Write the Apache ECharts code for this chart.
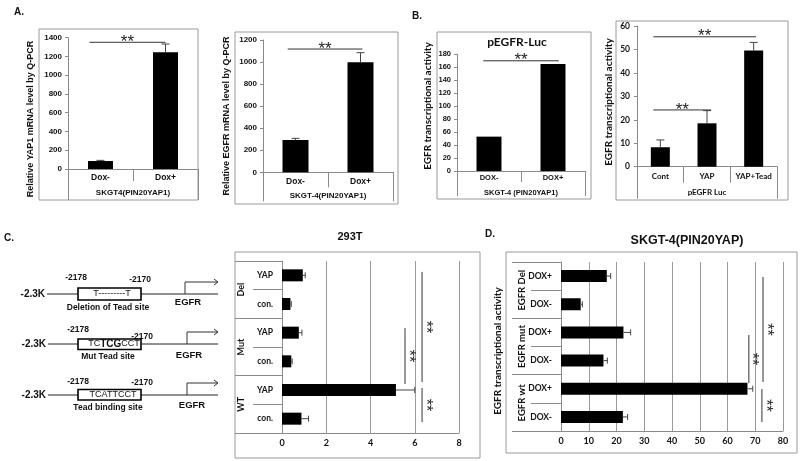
<!DOCTYPE html>
<html><head><meta charset="utf-8">
<script src="https://cdn.jsdelivr.net/npm/echarts@6/dist/echarts.min.js"></script>
<style>html,body{margin:0;padding:0;background:#fff}#c{width:800px;height:461px}</style>
</head><body><div id="c"></div>
<script>
// ---------- DATA ----------
const A1_CATS = ['Dox-', 'Dox+'];
const A1_GROUP = ['SKGT4(PIN20YAP1)'];
const A1_VALUES = [85, 1244];
const A1_ERR = [92, 1333];
const A1_SIG = [[-0.17, 1.0, 1351]];          // [from cat, to cat, level]
const A1_TICKS = {min: 0, max: 1400, step: 200};

const A2_CATS = ['Dox-', 'Dox+'];
const A2_GROUP = ['SKGT-4(PIN20YAP1)'];
const A2_VALUES = [293, 998];
const A2_ERR = [308, 1085];
const A2_SIG = [[-0.12, 1.03, 1118]];
const A2_TICKS = {min: 0, max: 1200, step: 200};

const B1_CATS = ['DOX-', 'DOX+'];
const B1_GROUP = ['SKGT-4 (PIN20YAP1)'];
const B1_VALUES = [53, 165];
const B1_SIG = [[-0.09, 1.09, 170]];
const B1_TICKS = {min: 0, max: 180, step: 20};

const B2_CATS = ['Cont', 'YAP', 'YAP+Tead'];
const B2_GROUP = ['pEGFR Luc'];
const B2_VALUES = [8.3, 18.5, 49.5];
const B2_ERR = [11.4, 23.9, 53];
const B2_SIG = [[-0.15, 2.05, 55.4], [-0.15, 1.09, 24.2]];
const B2_TICKS = {min: 0, max: 60, step: 10};

// horizontal panels: bottom -> top
const C_CATS = ['con.', 'YAP', 'con.', 'YAP', 'con.', 'YAP'];
const C_GROUPS = ['WT', 'Mut', 'Del'];
const C_VALUES = [0.88, 5.15, 0.42, 0.76, 0.38, 0.94];
const C_ERR = [1.2, 6.0, 0.46, 0.9, 0.42, 1.05];
const C_SIG = [[5.56, 3.16, 1.21], [6.33, 5.12, 1.28], [6.33, 1.07, -0.12]]; // [level, from cat, to cat]
const C_TICKS = {min: 0, max: 8, step: 2};

const D_CATS = ['DOX-', 'DOX+', 'DOX-', 'DOX+', 'DOX-', 'DOX+'];
const D_GROUPS = ['EGFR wt', 'EGFR mut', 'EGFR Del'];
const D_VALUES = [22.3, 67.2, 15.3, 22.5, 7.1, 16.5];
const D_ERR = [24.0, 69.1, 16.7, 25.1, 7.7, 17.9];
const D_SIG = [[67.7, 2.91, 1.20], [72.8, 4.97, 1.24], [72.4, 0.99, -0.18]];
const D_TICKS = {min: 0, max: 80, step: 10};

// ---------- STYLE ----------
const FA = '"Liberation Sans", Arial, sans-serif';
const FC = 'Lato, "Open Sans", sans-serif';
const AX = '#8a8a8a';
const TXT = '#111';

function errV(params, api) {
  const i = api.value(0), hi = api.value(1), v = api.value(2);
  const t = api.coord([i, hi]), b = api.coord([i, v]);
  const c = 4;
  return {type: 'group', children: [
    {type: 'line', shape: {x1: t[0], y1: t[1], x2: b[0], y2: b[1]}, style: {stroke: '#444', lineWidth: 1}},
    {type: 'line', shape: {x1: t[0] - c, y1: t[1], x2: t[0] + c, y2: t[1]}, style: {stroke: '#444', lineWidth: 1}}
  ]};
}
function errH(params, api) {
  const hi = api.value(0), i = api.value(1), v = api.value(2);
  const t = api.coord([hi, i]), b = api.coord([v, i]);
  const c = 3;
  return {type: 'group', children: [
    {type: 'line', shape: {x1: t[0], y1: t[1], x2: b[0], y2: b[1]}, style: {stroke: '#444', lineWidth: 1}},
    {type: 'line', shape: {x1: t[0], y1: t[1] - c, x2: t[0], y2: t[1] + c}, style: {stroke: '#444', lineWidth: 1}}
  ]};
}
function sigV(fs) {
  return function (params, api) {
    const v = api.value(1), f = api.value(2), to = api.value(3);
    const p0 = api.coord([0, v]), p1 = api.coord([1, v]);
    const band = p1[0] - p0[0];
    const x1 = p0[0] + f * band, x2 = p0[0] + to * band, y = p0[1];
    return {type: 'group', children: [
      {type: 'line', shape: {x1: x1, y1: y, x2: x2, y2: y}, style: {stroke: '#333', lineWidth: 1}},
      {type: 'text', x: (x1 + x2) / 2, y: y, style: {text: '**', fill: '#222', font: fs + 'px ' + FA, align: 'center', verticalAlign: 'middle'}}
    ]};
  };
}
function sigH(fs) {
  return function (params, api) {
    const x = api.value(0), f = api.value(2), to = api.value(3);
    const p0 = api.coord([x, 0]), p1 = api.coord([x, 1]);
    const band = p1[1] - p0[1];
    const y1 = p0[1] + f * band, y2 = p0[1] + to * band, X = p0[0];
    return {type: 'group', children: [
      {type: 'line', shape: {x1: X, y1: y1, x2: X, y2: y2}, style: {stroke: '#333', lineWidth: 1}},
      {type: 'text', x: X + 3, y: (y1 + y2) / 2, rotation: -Math.PI / 2, style: {text: '**', fill: '#222', font: fs + 'px ' + FA, align: 'center', verticalAlign: 'middle'}}
    ]};
  };
}

const plain = v => String(v);
function lab(font, size, margin, extra) {
  return Object.assign({show: true, interval: 0, color: TXT, fontFamily: font, fontSize: size, fontWeight: 'bold', margin: margin, hideOverlap: false}, extra || {});
}
function vCat(grid, cats, tickLen, font, size, margin) {
  return {type: 'category', gridIndex: grid, data: cats, position: 'bottom', offset: 0,
    axisLine: {show: true, lineStyle: {color: AX, width: 1}},
    axisTick: {show: true, alignWithLabel: false, interval: 0, length: tickLen, lineStyle: {color: AX}},
    axisLabel: lab(font, size, margin), splitLine: {show: false}};
}
function vGrp(grid, grp, tickLen, font, size, margin) {
  return {type: 'category', gridIndex: grid, data: grp, position: 'bottom', offset: 0,
    axisLine: {show: false},
    axisTick: {show: true, alignWithLabel: false, length: tickLen, lineStyle: {color: AX}},
    axisLabel: lab(font, size, margin), splitLine: {show: false}};
}
function vVal(grid, t, font, size, margin) {
  return {type: 'value', gridIndex: grid, min: t.min, max: t.max, interval: t.step,
    axisLine: {show: true, lineStyle: {color: AX}},
    axisTick: {show: true, length: 3, lineStyle: {color: AX}},
    axisLabel: lab(font, size, margin, {formatter: plain}), splitLine: {show: false}};
}
function hCat(grid, cats, tickLen, font, size, margin) {
  return {type: 'category', gridIndex: grid, data: cats, position: 'left', offset: 0,
    axisLine: {show: true, lineStyle: {color: AX}},
    axisTick: {show: true, alignWithLabel: false, interval: 0, length: tickLen, lineStyle: {color: AX}},
    axisLabel: lab(font, size, margin), splitLine: {show: false}};
}
function hGrp(grid, grps, tickLen, font, size, margin) {
  return {type: 'category', gridIndex: grid, data: grps, position: 'left', offset: 0,
    axisLine: {show: false},
    axisTick: {show: true, alignWithLabel: false, interval: 0, length: tickLen, lineStyle: {color: AX}},
    axisLabel: lab(font, size, margin, {rotate: 90}), splitLine: {show: false}};
}
function hVal(grid, t, font, size, margin) {
  return {type: 'value', gridIndex: grid, min: t.min, max: t.max, interval: t.step,
    axisLine: {show: true, lineStyle: {color: AX}},
    axisTick: {show: false},
    axisLabel: lab(font, size, margin, {formatter: plain}),
    splitLine: {show: true, lineStyle: {color: '#9a9a9a', width: 1}}};
}

function vSeries(xi, yi, vals, errs, sig, bw, fs) {
  const s = [{type: 'bar', xAxisIndex: xi, yAxisIndex: yi, data: vals, barWidth: bw, itemStyle: {color: '#000'}, z: 2, animation: false}];
  if (errs) s.push({type: 'custom', xAxisIndex: xi, yAxisIndex: yi, encode: {x: 0, y: 1}, clip: false, z: 3, animation: false,
    data: errs.map((e, i) => [i, e, vals[i]]), renderItem: errV});
  s.push({type: 'custom', xAxisIndex: xi, yAxisIndex: yi, encode: {x: 0, y: 1}, clip: false, z: 3, animation: false,
    data: sig.map(g => [0, g[2], g[0], g[1]]), renderItem: sigV(fs)});
  return s;
}
function hSeries(xi, yi, vals, errs, sig, bw, fs) {
  return [
    {type: 'bar', xAxisIndex: xi, yAxisIndex: yi, data: vals, barWidth: bw, itemStyle: {color: '#000'}, z: 2, animation: false},
    {type: 'custom', xAxisIndex: xi, yAxisIndex: yi, encode: {x: 0, y: 1}, clip: false, z: 3, animation: false,
      data: errs.map((e, i) => [e, i, vals[i]]), renderItem: errH},
    {type: 'custom', xAxisIndex: xi, yAxisIndex: yi, encode: {x: 0, y: 1}, clip: false, z: 3, animation: false,
      data: sig.map(g => [g[0], 0, g[1], g[2]]), renderItem: sigH(fs)}
  ];
}

// ---------- GRAPHIC (frames, titles, promoter diagram) ----------
function box(x, y, w, h) { return {type: 'rect', shape: {x: x, y: y, width: w, height: h}, style: {fill: 'none', stroke: '#9a9a9a', lineWidth: 1}, silent: true}; }
function txt(x, y, t, font) {
  return {type: 'text', x: x, y: y, style: {text: t, font: font, fill: TXT, align: 'center', verticalAlign: 'middle'}};
}
function vtxt(x, y, t, font) { return {type: 'text', x: x, y: y, rotation: Math.PI / 2, style: {text: t, font: font, fill: TXT, align: 'center', verticalAlign: 'middle'}}; }
function ln(x1, y1, x2, y2, w, c) { return {type: 'line', shape: {x1: x1, y1: y1, x2: x2, y2: y2}, style: {stroke: c || '#000', lineWidth: w || 1}}; }

function promoterRow(yLine, yBoxTop, yBoxBot, yNumL, yNumR, seqEl, caption, yCap, egfrX, yEgfr, arrowX, arrowTop, numLX, numRX, kRight) {
  const els = [];
  els.push(ln(kRight + 2, yLine, 218, yLine, 1, '#222'));
  els.push({type: 'text', x: kRight, y: yLine, style: {text: '-2.3K', font: 'bold 10px ' + FA, fill: TXT, align: 'right', verticalAlign: 'middle'}});
  els.push({type: 'rect', shape: {x: 78, y: yBoxTop, width: 63, height: yBoxBot - yBoxTop}, style: {fill: '#fff', stroke: '#000', lineWidth: 1.6}});
  els.push(seqEl);
  els.push(txt(numLX, yNumL, '-2178', 'bold 8.5px ' + FA));
  els.push(txt(numRX, yNumR, '-2170', 'bold 8.5px ' + FA));
  els.push(txt(108, yCap, caption, 'bold 8.5px ' + FA));
  els.push(txt(egfrX, yEgfr, 'EGFR', 'bold 9.5px ' + FA));
  els.push({type: 'polyline', shape: {points: [[arrowX, yLine], [arrowX, arrowTop], [218, arrowTop]]}, style: {stroke: '#333', lineWidth: 1, fill: 'none'}});
  els.push({type: 'polyline', shape: {points: [[214, arrowTop - 3], [218, arrowTop], [214, arrowTop + 3]]}, style: {stroke: '#333', lineWidth: 1, fill: 'none'}});
  return els;
}

const graphics = [
  box(39, 29, 159, 171), box(235, 32, 163, 172), box(437, 32, 154, 167), box(616, 21, 172, 179),
  box(235, 252, 245, 206), box(506, 252, 291, 201),
  txt(19, 12, 'A.', 'bold 10px ' + FA), txt(417, 16, 'B.', 'bold 10px ' + FA),
  txt(9, 238, 'C.', 'bold 10px ' + FA), txt(490, 234, 'D.', 'bold 10px ' + FA),
  vtxt(31, 119, 'Relative YAP1 mRNA level by Q-PCR', 'bold 9px ' + FA),
  vtxt(227, 116, 'Relative EGFR mRNA level by Q-PCR', 'bold 9px ' + FA),
  vtxt(428, 106, 'EGFR transcriptional activity', 'bold 10px ' + FC),
  vtxt(609, 102, 'EGFR transcriptional activity', 'bold 10px ' + FC),
  vtxt(498, 351, 'EGFR transcriptional activity', 'bold 10px ' + FC),
  txt(517, 42, 'pEGFR-Luc', 'bold 12px ' + FC),
  txt(350, 237, '293T', 'bold 11px ' + FA),
  txt(687, 241, 'SKGT-4(PIN20YAP)', 'bold 12.5px ' + FA)
];
graphics.push.apply(graphics, promoterRow(294, 288, 300, 278, 280,
  txt(112, 294, 'T---------T', '9px ' + FA), 'Deletion of Tead site', 308, 188, 302, 185, 282, 76, 140, 45));
graphics.push.apply(graphics, promoterRow(344, 339, 349.5, 330, 337,
  {type: 'text', x: 114, y: 344, style: {text: '{a|TC}{b|TCG}{a|CCT}', fill: TXT, align: 'center', verticalAlign: 'middle',
    rich: {a: {font: '9px ' + FA, fill: TXT}, b: {font: 'bold 10px ' + FA, fill: TXT}}}},
  'Mut Tead site', 357, 189, 355, 187, 332, 78, 142, 46));
graphics.push.apply(graphics, promoterRow(395, 389.5, 400, 382, 383,
  txt(113, 395, 'TCATTCCT', '9px ' + FA), 'Tead binding site', 408, 192, 405, 187, 383, 78, 142, 46));

// ---------- OPTION ----------
const option = {
  animation: false,
  backgroundColor: '#fff',
  grid: [
    {left: 68, top: 37.7, width: 130, height: 131.3},
    {left: 263, top: 40, width: 130, height: 132.3},
    {left: 457, top: 54.3, width: 128, height: 116.7},
    {left: 637, top: 26, width: 140, height: 140.7},
    {left: 282, top: 261, width: 177, height: 172},
    {left: 561, top: 262, width: 222, height: 169}
  ],
  xAxis: [
    vCat(0, A1_CATS, 12, FA, 8.5, 4), vGrp(0, A1_GROUP, 31, FA, 8, 20),
    vCat(1, A2_CATS, 15, FA, 8.5, 5), vGrp(1, A2_GROUP, 29, FA, 8, 19),
    vCat(2, B1_CATS, 11, FA, 7.5, 3), vGrp(2, B1_GROUP, 25, FA, 7.5, 18),
    vCat(3, B2_CATS, 16, FC, 8, 6), vGrp(3, B2_GROUP, 32, FC, 8, 22),
    hVal(4, C_TICKS, FC, 9, 6),
    hVal(5, D_TICKS, FC, 9, 6)
  ],
  yAxis: [
    vVal(0, A1_TICKS, FA, 8, 6),
    vVal(1, A2_TICKS, FA, 8, 6),
    vVal(2, B1_TICKS, FA, 7.5, 6),
    vVal(3, B2_TICKS, FC, 8.5, 7),
    hCat(4, C_CATS, 29, FC, 8.5, 9), hGrp(4, C_GROUPS, 47, FC, 9, 36),
    hCat(5, D_CATS, 30, FC, 8.5, 9), hGrp(5, D_GROUPS, 49, FC, 9.5, 34)
  ],
  series: [].concat(
    vSeries(0, 0, A1_VALUES, A1_ERR, A1_SIG, 25, 17),
    vSeries(2, 1, A2_VALUES, A2_ERR, A2_SIG, 26, 17),
    vSeries(4, 2, B1_VALUES, null, B1_SIG, 25, 17),
    vSeries(6, 3, B2_VALUES, B2_ERR, B2_SIG, 19, 17),
    hSeries(8, 4, C_VALUES, C_ERR, C_SIG, 12, 16),
    hSeries(9, 6, D_VALUES, D_ERR, D_SIG, 12, 16)
  ),
  graphic: {elements: graphics}
};
const chart = echarts.init(document.getElementById('c'), null, {renderer: 'canvas'});
chart.setOption(option);
</script>
</body></html>
